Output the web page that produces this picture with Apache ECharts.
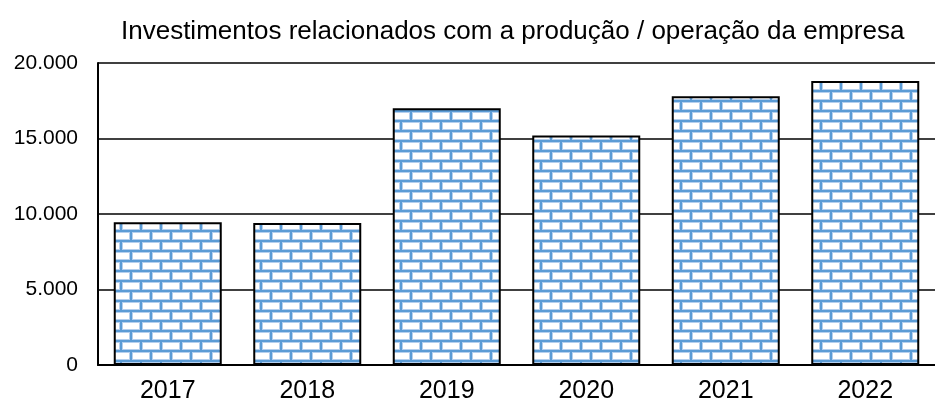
<!DOCTYPE html>
<html>
<head>
<meta charset="utf-8">
<script src="https://cdn.jsdelivr.net/npm/echarts@6/dist/echarts.min.js"></script>
<style>
  html, body { margin: 0; padding: 0; background: #fff; }
  #chart { width: 935px; height: 406px; }
</style>
</head>
<body>
<div id="chart"></div>
<script>
const years = ['2017', '2018', '2019', '2020', '2021', '2022']
const investments = [9450, 9400, 17000, 15200, 17800, 18800]
const yTicks = [0, 5000, 10000, 15000, 20000]
const yTickLabels = ['0', '5.000', '10.000', '15.000', '20.000']

// brick fill, drawn once on a small canvas and tiled
function brickPattern() {
  const c = document.createElement('canvas')
  c.width = 20
  c.height = 20
  const g = c.getContext('2d')
  g.fillStyle = '#5b9bd5'
  g.fillRect(0, 0, 20, 20)
  const bricks = [[2, 2], [12, 12]]
  for (const [x0, y0] of bricks) {
    // two bricks per row, second offset by half
    for (let k = -1; k < 2; k++) {
      const x = x0 + k * 20
      g.fillStyle = '#b4cfee'
      g.fillRect(x, y0, 18, 8)
      g.fillStyle = '#ffffff'
      g.fillRect(x + 1, y0 + 1, 16, 6)
    }
  }
  return c
}

const chart = echarts.init(document.getElementById('chart'))
chart.setOption({
  animation: false,
  title: {
    text: 'Investimentos relacionados com a produção / operação da empresa',
    left: 116,
    top: 14,
    textStyle: { fontFamily: 'Liberation Sans', fontSize: 26, fontWeight: 'normal', color: '#000' }
  },
  grid: { left: 98, top: 63, width: 840, height: 302 },
  xAxis: {
    type: 'category',
    data: years,
    axisLine: { lineStyle: { color: '#000', width: 2 } },
    axisTick: { show: false },
    axisLabel: { fontFamily: 'Liberation Sans', fontSize: 25, color: '#000', margin: 14 }
  },
  yAxis: {
    type: 'value',
    min: 0,
    max: 20000,
    interval: 5000,
    axisLine: { show: true, lineStyle: { color: '#000', width: 2 } },
    axisTick: { show: false },
    splitLine: { lineStyle: { color: '#000', width: 1.5 } },
    axisLabel: {
      fontFamily: 'Liberation Sans',
      fontSize: 21,
      color: '#000',
      margin: 20,
      formatter: v => yTickLabels[yTicks.indexOf(v)]
    }
  },
  series: [{
    type: 'bar',
    data: investments,
    barWidth: 108,
    itemStyle: {
      color: { image: brickPattern(), repeat: 'repeat' },
      borderColor: '#000',
      borderWidth: 2
    }
  }]
})
</script>
</body>
</html>
